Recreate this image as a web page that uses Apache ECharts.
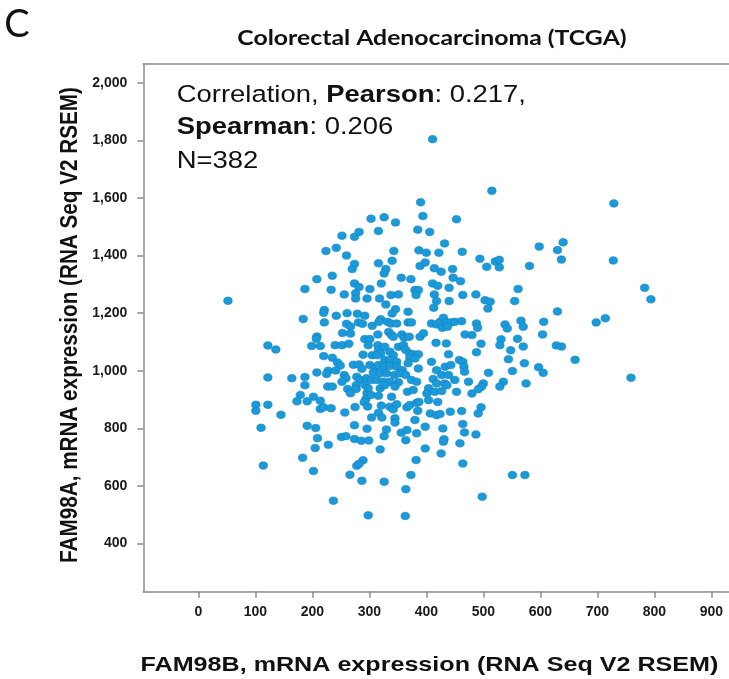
<!DOCTYPE html>
<html>
<head>
<meta charset="utf-8">
<script src="https://cdn.jsdelivr.net/npm/echarts@6/dist/echarts.min.js"></script>
<style>
  html, body { margin: 0; padding: 0; background: #fff; }
  #chart { width: 729px; height: 679px; }
</style>
</head>
<body>
<div id="chart"></div>
<script>
// values (one entry per dot)
const fam98b = [
  252, 274, 282, 224, 242, 260, 274,
  411, 515, 390, 394, 326, 303, 346, 453, 316, 385, 406, 432, 343, 387, 400, 422, 463, 494, 506, 521, 528, 528, 316, 340, 389, 398, 329, 414, 446,
  729, 598, 630, 640, 637, 581, 728, 561, 555, 783, 794, 630, 698, 714, 538, 542, 566, 570, 606, 604, 531, 529, 560, 570, 548, 628, 637, 661, 544, 572, 551, 597, 605, 759, 535, 529, 575,
  551, 573,
  270, 208, 235, 187, 233, 274, 282, 256, 276, 276, 296, 52, 184, 221, 220, 242, 261, 279, 221, 260, 267, 281, 288, 253, 267, 208, 207, 122, 136, 199, 214, 240, 252, 264, 220, 235, 289, 244, 249, 272, 282, 287, 208, 228, 225, 241, 122, 164, 187, 187, 227, 235, 256, 259, 252, 278, 284, 277, 262, 267, 277, 296, 179, 202, 294, 293,
  101, 122, 101, 145, 173, 191, 214, 214, 220, 233, 257, 275, 291, 297, 110, 191, 206, 209, 205, 228, 251, 259, 274, 296, 274, 286, 299, 183, 114, 202, 289, 278, 282, 266, 287, 237, 298,
  321, 336, 342, 348, 366, 371, 383, 387, 404, 420, 385, 316, 304, 322, 345, 380, 407, 418, 424, 442, 462, 496, 491, 330, 345, 356, 366, 383, 398, 429, 464, 467, 487, 326, 364, 431, 430, 459, 319, 398, 426, 382, 464, 373, 326, 364, 498, 363,
  326, 426, 447, 321, 356, 373, 411, 420, 440, 460, 301, 380, 386, 382, 338, 351, 318, 414, 418, 440, 464, 487, 503, 512, 508, 329, 346, 340, 368, 413,
  292, 320, 317, 305, 332, 338, 348, 368, 374, 409, 418, 424, 430, 436, 443, 450, 462, 428, 437, 488, 490,
  292, 301, 315, 334, 339, 342, 357, 361, 370, 389, 395, 468, 480, 417, 435, 496, 298, 315, 316, 320, 327, 336, 342, 351, 360, 364, 371, 377, 386, 439, 488,
  305, 313, 327, 336, 348, 371, 380, 409, 458, 464, 301, 310, 316, 326, 336, 348, 358, 368, 418, 433, 443, 466, 467, 509,
  307, 319, 330, 344, 354, 364, 386, 427, 439, 295, 304, 313, 325, 336, 351, 374, 383, 412, 418, 432, 436, 450, 474, 500, 497,
  298, 319, 327, 345, 367, 377, 404, 401, 415, 427, 453, 480, 491, 303, 316, 339
];
const fam98a = [
  1469, 1465, 1482, 1416, 1427, 1400, 1371,
  1804, 1625, 1585, 1537, 1533, 1528, 1515, 1526, 1485, 1490, 1482, 1442, 1416, 1418, 1410, 1410, 1413, 1389, 1361, 1379, 1385, 1359, 1373, 1382, 1364, 1376, 1353, 1356, 1353,
  1581, 1431, 1419, 1446, 1386, 1364, 1383, 1284, 1242, 1288, 1248, 1206, 1168, 1182, 1161, 1147, 1174, 1153, 1170, 1126, 1109, 1089, 1111, 1084, 1071, 1088, 1084, 1038, 1040, 1026, 999, 1012, 993, 976, 962, 945, 956,
  638, 638,
  1353, 1318, 1330, 1284, 1281, 1303, 1291, 1265, 1269, 1251, 1251, 1243, 1180, 1211, 1201, 1191, 1200, 1198, 1168, 1163, 1154, 1168, 1163, 1131, 1129, 1119, 1111, 1088, 1074, 1086, 1086, 1089, 1089, 1094, 1051, 1045, 1056, 1029, 1018, 1021, 1022, 1007, 994, 1000, 989, 1001, 977, 974, 978, 950, 945, 945, 985, 974, 962, 979, 968, 950, 937, 922, 937, 923, 916, 910, 902, 950,
  882, 882, 861, 847, 894, 894, 896, 867, 873, 870, 855, 874, 891, 876, 802, 809, 801, 766, 732, 743, 770, 773, 811, 799, 763, 757, 758, 698, 671, 652, 689, 670, 677, 639, 618, 549, 498,
  879, 875, 866, 884, 873, 881, 889, 892, 898, 892, 861, 854, 838, 838, 835, 829, 852, 846, 850, 858, 860, 873, 852, 796, 820, 785, 794, 783, 806, 800, 815, 786, 779, 773, 759, 762, 754, 748, 727, 730, 713, 690, 678, 638, 615, 589, 563, 496,
  1338, 1344, 1323, 1303, 1323, 1318, 1303, 1295, 1288, 1311, 1284, 1280, 1280, 1263, 1263, 1265, 1251, 1265, 1242, 1242, 1263, 1265, 1245, 1240, 1216, 1230, 1214, 1199, 1205, 1219,
  1191, 1179, 1170, 1156, 1170, 1164, 1164, 1168, 1168, 1164, 1161, 1170, 1184, 1168, 1168, 1170, 1172, 1149, 1153, 1164, 1149,
  1110, 1110, 1126, 1135, 1124, 1118, 1126, 1115, 1118, 1118, 1130, 1126, 1124, 1097, 1095, 1094, 1089, 1089, 1072, 1060, 1083, 1066, 1054, 1083, 1089, 1072, 1060, 1057, 1057, 1057, 1064,
  1054, 1054, 1037, 1037, 1031, 1045, 1043, 1031, 1037, 1031, 1020, 1008, 1020, 1014, 1017, 1014, 1002, 1026, 1002, 1014, 1020, 1014, 997, 993,
  994, 991, 991, 985, 991, 985, 1008, 985, 985, 974, 968, 968, 962, 962, 960, 968, 962, 971, 956, 956, 950, 968, 962, 956, 945,
  939, 939, 950, 945, 927, 933, 939, 921, 927, 930, 927, 921, 936, 916, 913, 910
];

const xTicks = [0, 100, 200, 300, 400, 500, 600, 700, 800, 900];
const yTicks = [400, 600, 800, 1000, 1200, 1400, 1600, 1800, 2000];

const panelLetter = 'C';
const chartTitle = 'Colorectal Adenocarcinoma (TCGA)';
const xName = 'FAM98B, mRNA expression (RNA Seq V2 RSEM)';
const yName = 'FAM98A, mRNA expression (RNA Seq V2 RSEM)';
const pearson = '0.217';
const spearman = '0.206';
const sampleCount = 382;

const points = fam98b.map((x, i) => [x, fam98a[i]]);

const axisGray = '#8c8c8c';
const labelFont = 'Liberation Sans';
const xMin = -96.5;
const xMax = 931; // the box is cut off at the right edge of the figure

function withCommas(v) {
  return String(v).replace(/\B(?=(\d{3})+(?!\d))/g, ',');
}

const chart = echarts.init(document.getElementById('chart'));

const option = {
  backgroundColor: '#fff',
  animation: false,
  grid: {
    left: 143.3,
    top: 64,
    right: 0,
    bottom: 87.3
  },
  xAxis: [
    {
      type: 'value',
      min: xMin,
      max: xMax,
      axisLine: { show: true, onZero: false, lineStyle: { color: axisGray, width: 1.5 } },
      splitLine: { show: false },
      axisTick: {
        show: true,
        inside: false,
        length: 6,
        customValues: xTicks,
        lineStyle: { color: axisGray, width: 1.5 }
      },
      axisLabel: {
        customValues: xTicks,
        margin: 13,
        color: '#1a1a1a',
        fontFamily: labelFont,
        fontWeight: 'bold',
        fontSize: 14
      }
    },
    {
      // top edge of the box only
      type: 'value',
      position: 'top',
      min: xMin,
      max: xMax,
      axisLine: { show: true, onZero: false, lineStyle: { color: axisGray, width: 1.5 } },
      axisTick: { show: false },
      axisLabel: { show: false },
      splitLine: { show: false }
    }
  ],
  yAxis: {
    type: 'value',
    min: 233,
    max: 2065,
    axisLine: { show: true, onZero: false, lineStyle: { color: axisGray, width: 1.5 } },
    splitLine: { show: false },
    axisTick: {
      show: true,
      inside: false,
      length: 6,
      customValues: yTicks,
      lineStyle: { color: axisGray, width: 1.5 }
    },
    axisLabel: {
      customValues: yTicks,
      margin: 16,
      color: '#1a1a1a',
      fontFamily: labelFont,
      fontWeight: 'bold',
      fontSize: 14,
      formatter: (v) => withCommas(v)
    }
  },
  graphic: [
    {
      type: 'text',
      x: 17,
      y: 25,
      style: {
        text: panelLetter,
        font: '38px Lato',
        fill: '#111',
        align: 'center',
        verticalAlign: 'middle'
      }
    },
    {
      type: 'text',
      x: 432,
      y: 38,
      scaleX: 1.18,
      style: {
        text: chartTitle,
        font: 'bold 21px Lato',
        fill: '#111',
        align: 'center',
        verticalAlign: 'middle'
      }
    },
    {
      type: 'text',
      x: 176.7,
      y: 95,
      scaleX: 1.12,
      style: {
        text: '{r|Correlation, }{b|Pearson}{r|: ' + pearson + ',}',
        verticalAlign: 'middle',
        rich: {
          r: { font: '24.5px "Liberation Sans"', fill: '#111' },
          b: { font: 'bold 24.5px "Liberation Sans"', fill: '#111' }
        }
      }
    },
    {
      type: 'text',
      x: 176.7,
      y: 127,
      scaleX: 1.12,
      style: {
        text: '{b|Spearman}{r|: ' + spearman + '}',
        verticalAlign: 'middle',
        rich: {
          r: { font: '24.5px "Liberation Sans"', fill: '#111' },
          b: { font: 'bold 24.5px "Liberation Sans"', fill: '#111' }
        }
      }
    },
    {
      type: 'text',
      x: 176.7,
      y: 161,
      scaleX: 1.12,
      style: {
        text: 'N=' + sampleCount,
        font: '24.5px "Liberation Sans"',
        fill: '#111',
        verticalAlign: 'middle'
      }
    },
    {
      type: 'text',
      x: 429.5,
      y: 665,
      scaleX: 1.196,
      style: {
        text: xName,
        font: 'bold 21px "Liberation Sans"',
        fill: '#111',
        align: 'center',
        verticalAlign: 'middle'
      }
    },
    {
      type: 'text',
      x: 70,
      y: 325,
      rotation: Math.PI / 2,
      scaleY: 1.15,
      style: {
        text: yName,
        font: 'bold 20.7px "Liberation Sans"',
        fill: '#111',
        align: 'center',
        verticalAlign: 'middle'
      }
    }
  ],
  series: [
    {
      type: 'scatter',
      data: points,
      symbol: 'circle',
      symbolSize: [8.5, 7.5],
      itemStyle: {
        color: '#1a9ad9',
        borderColor: '#0f80c2',
        borderWidth: 0.6,
        opacity: 1
      }
    }
  ]
};

chart.setOption(option);
</script>
</body>
</html>
